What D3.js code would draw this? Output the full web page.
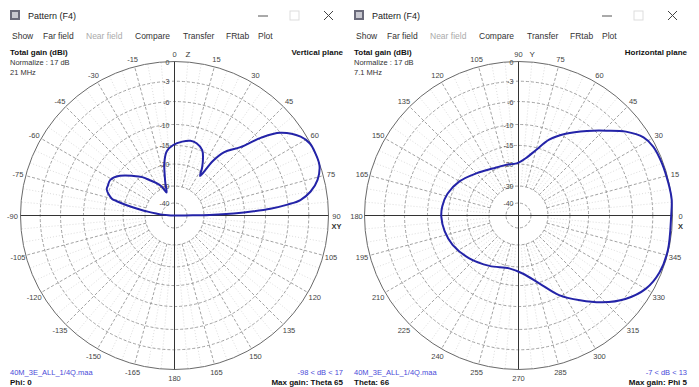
<!DOCTYPE html>
<html><head><meta charset="utf-8">
<script src="https://cdn.jsdelivr.net/npm/d3@7"></script>
<style>
body{margin:0;background:#fff}
svg{display:block;font-family:"Liberation Sans",Arial,sans-serif}
</style>
</head><body>
<svg id="c" width="699" height="387"></svg>
<script>
// ---- data ----
const ringDb = [0, -3, -6, -10, -15, -20, -30, -40];
const ringLabels = ["0", "-3", "-6", "-10", "-15", "-20", "-30", "-40"];

// Vertical plane: angle from zenith (clockwise), gain dB
const vertAngles = [-90,-88,-86,-84,-82,-80,-78,-76,-75,-69,-66,-61,-54,-46,-40,-35,-29,-24,-19,-16,-14,-11,-7,-1,6,12,17,23,27,30,33,35,38,44,48,52,58,62,66,71,76,80,83,84.5,86,87,88,89,89.5,90];
const vertGain   = [-50,-45,-40,-37,-32,-27,-21.5,-17.7,-16.4,-14.4,-14.3,-14.2,-15.7,-18.5,-20.6,-23.8,-26.6,-29,-33,-28.4,-25.2,-19.5,-16.5,-14.9,-14,-13.5,-13.7,-14.8,-17,-19,-22,-16.1,-12.6,-9.3,-5.7,-3,-0.8,-0.1,0,-0.1,-1,-2.4,-4.1,-6.1,-9.1,-12.8,-17.9,-27.5,-36.7,-50];

// Horizontal plane: azimuth (counter-clockwise from X), gain dB
const horzAngles = [0,6,12,20,27,32,38,44,51,60,68,75,82,92,104,119,135,150,163,173,181,192,204,221,240,260,274,287,297,306,314,322,330,338,347];
const horzGain   = [-0.2,0,-0.1,-0.2,-0.4,-1,-2.7,-4.8,-6.9,-9.4,-12.2,-15.6,-18.1,-19.8,-19.8,-19.4,-17.8,-15.5,-14,-13.4,-13.3,-13.7,-14.5,-16.3,-18.2,-19.4,-18.2,-14.8,-10.4,-7.6,-5,-2.8,-1.1,-0.3,-0.1];

// angle tick labels, every 15 deg, clockwise from top
const vertTickLabels = ["0","15","30","45","60","75","90","105","120","135","150","165","180","-165","-150","-135","-120","-105","-90","-75","-60","-45","-30","-15"];
const horzTickLabels = ["90","75","60","45","30","15","0","345","330","315","300","285","270","255","240","225","210","195","180","165","150","135","120","105"];

const menuItems = ["Show","Far field","Near field","Compare","Transfer","FRtab","Plot"];

const panels = [
  {title:"Pattern (F4)", plane:"Vertical plane", norm:"Normalize : 17 dB", freq:"21 MHz",
   file:"40M_3E_ALL_1/4Q.maa", range:"-98 < dB < 17", left:"Phi: 0", right:"Max gain: Theta 65",
   ticks:vertTickLabels, topExtra:"Z", rightExtra:"XY",
   angles:vertAngles, gain:vertGain, toRad:a=>a*Math.PI/180, closed:false},
  {title:"Pattern (F4)", plane:"Horizontal plane", norm:"Normalize : 17 dB", freq:"7.1 MHz",
   file:"40M_3E_ALL_1/4Q.maa", range:"-7 < dB < 13", left:"Theta: 66", right:"Max gain: Phi 5",
   ticks:horzTickLabels, topExtra:"Y", rightExtra:"X",
   angles:horzAngles, gain:horzGain, toRad:a=>(90-a)*Math.PI/180, closed:true}
];

// ---- drawing ----
const svg = d3.select("#c");
const R = 154;
const rScale = d3.scaleLinear()
  .domain([-50,-40,-30,-20,-15,-10,-6,-3,0])
  .range([0,.081,.191,.334,.455,.591,.740,.872,1].map(f=>f*R))
  .clamp(true);

panels.forEach((p,i)=>{
  const ox = i*344;
  const g = svg.append("g").attr("transform",`translate(${ox},0)`);
  // title bar
  g.append("rect").attr("x",10).attr("y",10).attr("width",10).attr("height",10).attr("fill","#6a6a7a");
  g.append("rect").attr("x",12).attr("y",12).attr("width",6).attr("height",6).attr("fill","#c8c8d0");
  g.append("text").attr("x",28).attr("y",19).attr("font-size",9).attr("fill","#222").text(p.title);
  g.append("line").attr("x1",258).attr("x2",268).attr("y1",16).attr("y2",16).attr("stroke","#555");
  g.append("rect").attr("x",290).attr("y",11).attr("width",9).attr("height",9).attr("fill","none").attr("stroke","#ddd");
  g.append("path").attr("d","M324,11L333,20M333,11L324,20").attr("stroke","#444").attr("stroke-width",1);
  // menu
  let mx = 12;
  const gaps=[31,43,49,48,43,32];
  menuItems.forEach((m,k)=>{
    g.append("text").attr("x",mx).attr("y",39).attr("font-size",8.5)
      .attr("fill",m==="Near field"?"#aaa":"#333").text(m);
    mx += gaps[k]||0;
  });
  // info text
  g.append("text").attr("x",10).attr("y",55).attr("font-size",8).attr("font-weight","bold").attr("fill","#111").text("Total gain (dBi)");
  g.append("text").attr("x",343).attr("y",55).attr("font-size",8).attr("font-weight","bold").attr("text-anchor","end").attr("fill","#111").text(p.plane);
  g.append("text").attr("x",10).attr("y",65).attr("font-size",7.5).attr("fill","#333").text(p.norm);
  g.append("text").attr("x",10).attr("y",75).attr("font-size",7.5).attr("fill","#333").text(p.freq);
  g.append("text").attr("x",10).attr("y",375).attr("font-size",7.5).attr("fill","#4a4ad8").text(p.file);
  g.append("text").attr("x",343).attr("y",375).attr("font-size",7.5).attr("text-anchor","end").attr("fill","#4a4ad8").text(p.range);
  g.append("text").attr("x",10).attr("y",385).attr("font-size",8).attr("font-weight","bold").attr("fill","#111").text(p.left);
  g.append("text").attr("x",343).attr("y",385).attr("font-size",8).attr("font-weight","bold").attr("text-anchor","end").attr("fill","#111").text(p.right);

  // polar plot
  const cx = 174.5, cy = 215.5;
  const pg = g.append("g").attr("transform",`translate(${cx},${cy})`);
  // minor radials every 5 deg
  d3.range(0,360,5).filter(a=>a%15!==0).forEach(a=>{
    const t=a*Math.PI/180;
    pg.append("line").attr("x1",rScale(-30)*Math.sin(t)).attr("y1",-rScale(-30)*Math.cos(t))
      .attr("x2",R*Math.sin(t)).attr("y2",-R*Math.cos(t))
      .attr("stroke","#c4c4c4").attr("stroke-width",0.6).attr("stroke-dasharray","1,2");
  });
  // major radials every 15 deg
  d3.range(0,360,15).filter(a=>a%90!==0).forEach(a=>{
    const t=a*Math.PI/180;
    pg.append("line").attr("x1",rScale(-30)*Math.sin(t)).attr("y1",-rScale(-30)*Math.cos(t))
      .attr("x2",R*Math.sin(t)).attr("y2",-R*Math.cos(t))
      .attr("stroke","#8a8a8a").attr("stroke-width",0.8).attr("stroke-dasharray","3,2");
  });
  // rings
  ringDb.forEach((d,k)=>{
    pg.append("circle").attr("r",rScale(d)).attr("fill","none")
      .attr("stroke",k===0?"#6a6a6a":"#8a8a8a").attr("stroke-width",k===0?1:0.8)
      .attr("stroke-dasharray",k===0?null:"3,2");
  });
  // axes
  pg.append("line").attr("x1",-R).attr("x2",R).attr("y1",0).attr("y2",0).attr("stroke","#333").attr("stroke-width",1);
  pg.append("line").attr("x1",0).attr("x2",0).attr("y1",-R).attr("y2",R).attr("stroke","#333").attr("stroke-width",1);
  // ring labels
  ringDb.forEach((d,k)=>{
    pg.append("text").attr("x",-5).attr("y",-rScale(d)+3).attr("text-anchor","end")
      .attr("font-size",7).attr("fill","#444").text(ringLabels[k]);
  });
  // angle labels
  p.ticks.forEach((lab,k)=>{
    const t=k*15*Math.PI/180, rr=R+8;
    pg.append("text").attr("x",rr*Math.sin(t)).attr("y",-rr*Math.cos(t)+3)
      .attr("text-anchor","middle").attr("font-size",7.5).attr("fill","#444").text(lab);
  });
  pg.append("text").attr("x",11).attr("y",-R-5).attr("font-size",8).attr("fill","#333").text(p.topExtra);
  pg.append("text").attr("x",R+8).attr("y",13).attr("text-anchor","middle").attr("font-size",7.5).attr("font-weight","bold").attr("fill","#333").text(p.rightExtra);

  // pattern
  const pts = p.angles.map((a,k)=>[p.toRad(a), rScale(p.gain[k])]);
  const line = d3.lineRadial().angle(d=>d[0]).radius(d=>d[1])
    .curve(p.closed ? d3.curveCatmullRomClosed.alpha(0.5) : d3.curveCatmullRom.alpha(0.5));
  pg.append("path").attr("d",line(pts)).attr("fill","none")
    .attr("stroke","#2323a8").attr("stroke-width",2).attr("stroke-linejoin","round");
});
</script>
</body></html>
